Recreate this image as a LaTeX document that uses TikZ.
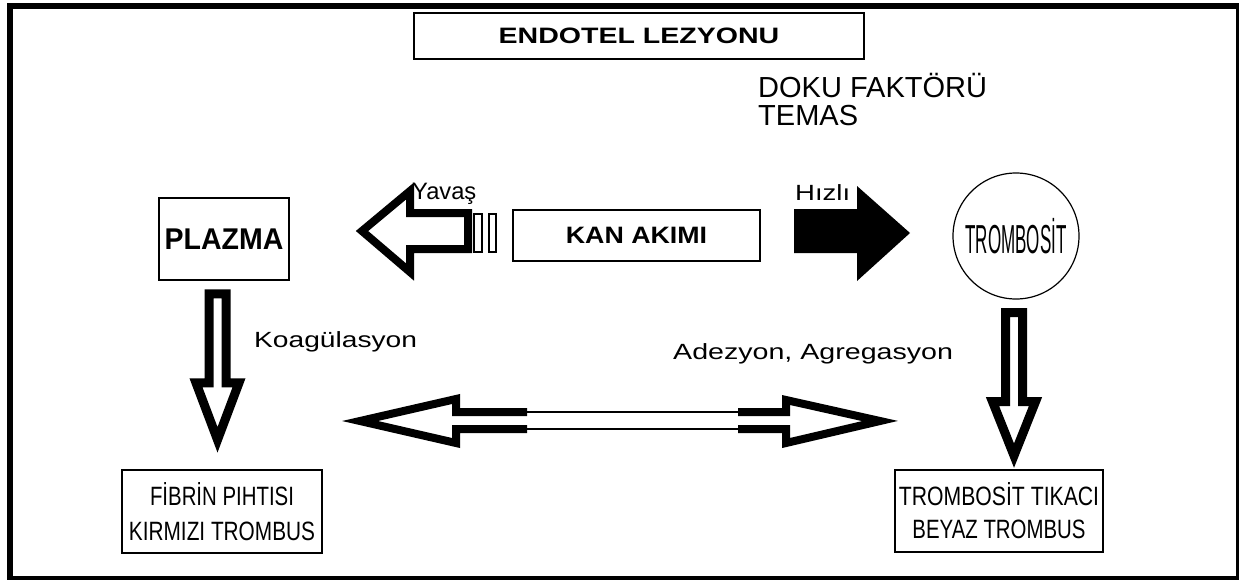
\documentclass[tikz,border=0pt]{standalone}
\usepackage{fontspec}
\setmainfont{Liberation Sans}
\usepackage{graphicx}
\newcommand{\sx}[2]{\scalebox{#1}[1]{#2}}
\newcommand{\hollowdown}[4]
{
\draw[hollow] (#1) ++(#2,#3) ++(-8.5,0) -- ++(0,89) -- ++(-13,0) -- ++(21.5,#4)
-- ++(21.5,-#4) -- ++(-13,0) -- ++(0,-89) -- cycle;
}

\begin{document}
\begin{tikzpicture}[x=1pt, y=-1pt,
  box/.style={draw, line width=1.6pt, inner sep=0pt},
  lbl/.style={inner sep=0pt, font=\fontsize{22}{26}\selectfont},
  hollow/.style={draw, fill=white, line width=9pt, line join=miter, miter limit=20}
  ]
  \useasboundingbox (0,0) rectangle (1239,579);
  \draw[line width=6pt] (10,6) rectangle (1239,579);

  \node[box, minimum width=450pt, minimum height=46pt, font=\fontsize{22.3}{26}\selectfont\bfseries] (endotel) at (639,36) {\sx{1.28}{ENDOTEL LEZYONU}};
  \node[lbl, font=\fontsize{29}{34}\selectfont, anchor=base west] (doku) at (758,97) {DOKU FAKTÖRÜ};
  \node[lbl, font=\fontsize{29}{34}\selectfont, anchor=base west] (temas) at (758,125) {TEMAS};

  \node[box, minimum width=130pt, minimum height=82pt, font=\fontsize{30}{34}\selectfont\bfseries] (plazma) at (224,239) {\sx{0.95}{PLAZMA}};
  \node[box, minimum width=247pt, minimum height=51pt, font=\fontsize{23.7}{28}\selectfont\bfseries] (kan) at (636.5,235.5) {\sx{1.13}{KAN AKIMI}};
  \node[draw, circle, line width=1.2pt, minimum size=126pt, inner sep=0pt, font=\fontsize{40.5}{44}\selectfont] (trombosit) at (1016,236) {\sx{0.42}{TROMBOSİT}};

  \node[box, minimum width=200pt, minimum height=83pt, align=center, font=\fontsize{26.5}{35}\selectfont] (fibrin) at (222,511.5) {\sx{0.77}{FİBRİN PIHTISI}\\\sx{0.785}{KIRMIZI TROMBUS}};
  \node[box, minimum width=208pt, minimum height=82pt, align=center, font=\fontsize{26.5}{33}\selectfont] (tikac) at (999,511) {\sx{0.8}{TROMBOSİT TIKACI}\\\sx{0.77}{BEYAZ TROMBUS}};

  % labels
  \node[lbl, font=\fontsize{23.7}{28}\selectfont, anchor=base west] (yavas) at (412,199) {Yavaş};
  \node[lbl, anchor=base west] (hizli) at (795,200) {\sx{1.25}{Hızlı}};
  \node[lbl, anchor=base west] (koag) at (254,347) {\sx{1.28}{Koagülasyon}};
  \node[lbl, anchor=base west] (adez) at (673,359) {\sx{1.3}{Adezyon, Agregasyon}};

  % kan akimi: yavas / hizli
  \draw[hollow, line width=8pt] (468,213) -- (410,213) -- (410,191) -- (362,231) -- (410,272) -- (410,249) -- (468,249) -- cycle;
  \draw[line width=2pt, fill=white] (474,214) rectangle (482,252) (489,214) rectangle (496,252);
  \fill (794,209) -- (857,209) -- (857,186) -- (910,233) -- (857,281) -- (857,253) -- (794,253) -- cycle;

  \hollowdown{plazma.south}{-6.5}{13}{57}
  \hollowdown{trombosit.south}{-2}{13}{54}

  % double arrow
  \draw[hollow, line width=8pt, fill=none] (527,412) -- (456,412) -- (456,399) -- (360,421) -- (456,443) -- (456,429) -- (527,429);
  \draw[line width=2pt] (527,412) -- (738,412) (527,429) -- (738,429);
  \draw[hollow, line width=8pt, fill=none] (738,412) -- (786,412) -- (786,400) -- (880,421) -- (786,443) -- (786,429) -- (738,429);

\end{tikzpicture}
\end{document}
